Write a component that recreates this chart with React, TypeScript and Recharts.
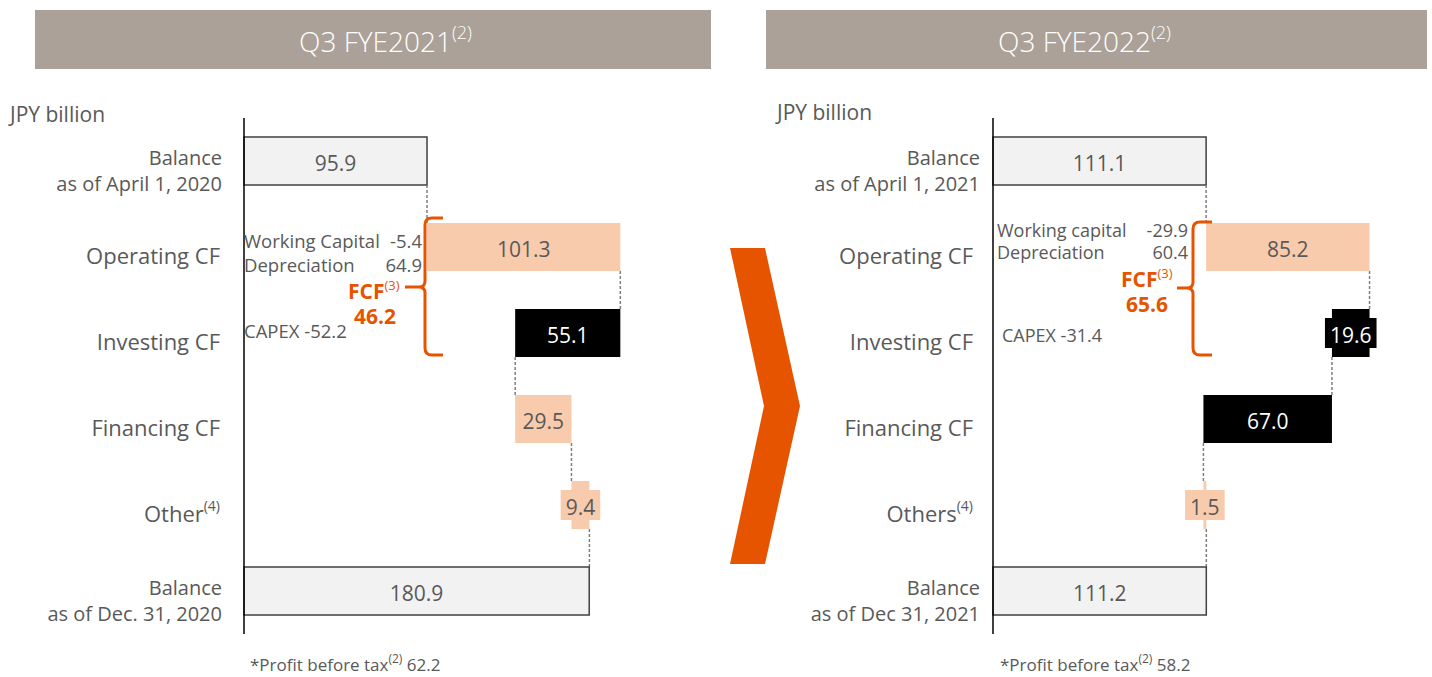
import { BarChart, Bar, XAxis, YAxis } from "recharts";

// category labels ("\n" = line break), superscripts and values per period
const cats2021 = ["Balance\nas of April 1, 2020", "Operating CF", "Investing CF", "Financing CF", "Other", "Balance\nas of Dec. 31, 2020"];
const sups2021 = ["", "", "", "", "(4)", ""];
const vals2021 = [95.9, 101.3, -55.1, 29.5, 9.4, 180.9];

const cats2022 = ["Balance\nas of April 1, 2021", "Operating CF", "Investing CF", "Financing CF", "Others", "Balance\nas of Dec 31, 2021"];
const sups2022 = ["", "", "", "", "(4)", ""];
const vals2022 = [111.1, 85.2, -19.6, -67.0, 1.5, 111.2];

const isTotal = [true, false, false, false, false, true];

const FONT = "'Open Sans', 'Noto Sans', sans-serif";
const GREY_TEXT = "#595959";
const UP_FILL = "#F8CBAD";
const DOWN_FILL = "#000000";
const BAL_FILL = "#F2F2F2";
const BAL_STROKE = "#404040";
const ORANGE = "#E65400";
const BAND = "#ABA198";

const ROW_H = 86;
const BAR_H = 48;

interface Row {
  name: string;
  sup: string;
  base: number;
  size: number;
  value: number;
  total: boolean;
  up: boolean;
  last: boolean;
}

function buildRows(cats: string[], sups: string[], vals: number[]): Row[] {
  let run = 0;
  return cats.map((c, i) => {
    const v = vals[i];
    let base = 0;
    if (isTotal[i]) {
      run = v;
    } else {
      const start = run;
      run = run + v;
      base = Math.min(start, run);
    }
    return {
      name: c,
      sup: sups[i],
      base,
      size: isTotal[i] ? v : Math.abs(v),
      value: v,
      total: isTotal[i],
      up: v >= 0,
      last: i === cats.length - 1,
    };
  });
}

const rows2021 = buildRows(cats2021, sups2021, vals2021);
const rows2022 = buildRows(cats2022, sups2022, vals2022);

function textWidth(s: string, fs: number) {
  let w = 0;
  for (const ch of s) w += ch === "." ? 0.27 : 0.57;
  return w * fs;
}

const WaterfallBar = (props: any) => {
  const { x, y, width, height, payload } = props;
  const p = payload as Row;
  const fill = p.total ? BAL_FILL : p.up ? UP_FILL : DOWN_FILL;
  const endX = p.total || p.up ? x + width : x;
  const label = Math.abs(p.value).toFixed(1);
  const tw = textWidth(label, 21) + 10;
  const cx = x + width / 2;
  const cy = y + height / 2;
  const gap = ROW_H - BAR_H;
  return (
    <g>
      <rect
        x={x}
        y={y}
        width={width}
        height={height}
        fill={fill}
        stroke={p.total ? BAL_STROKE : "none"}
        strokeWidth={1.5}
      />
      {!p.total && tw > width && (
        <rect x={cx - tw / 2} y={cy - 15} width={tw} height={30} fill={fill} />
      )}
      <text
        x={cx}
        y={cy + 2}
        textAnchor="middle"
        dominantBaseline="central"
        fontSize={21}
        fill={!p.total && !p.up ? "#ffffff" : GREY_TEXT}
      >
        {label}
      </text>
      {!p.last && (
        <line
          x1={endX}
          x2={endX}
          y1={y + height}
          y2={y + height + gap}
          stroke="#7f7f7f"
          strokeWidth={1.5}
          strokeDasharray="3 2"
        />
      )}
    </g>
  );
};

const CategoryTick = (props: any) => {
  const { x, y, payload, index, rows, balanceShift } = props;
  const row: Row = rows[index];
  const lines = String(payload.value).split("\n");
  if (lines.length > 1) {
    const lh = 26;
    const tx = x + (balanceShift || 0);
    const y0 = y + 9 - lh / 2;
    return (
      <g fontSize={20} fill={GREY_TEXT}>
        <text x={tx} y={y0} textAnchor="end" dominantBaseline="central">{lines[0]}</text>
        <text x={tx} y={y0 + lh} textAnchor="end" dominantBaseline="central">{lines[1]}</text>
      </g>
    );
  }
  return (
    <text x={x} y={y + 8} textAnchor="end" dominantBaseline="central" fontSize={22} fill={GREY_TEXT}>
      {lines[0]}
      {row && row.sup ? (
        <tspan fontSize={14} dy={-8}>
          {row.sup}
        </tspan>
      ) : null}
    </text>
  );
};

function Waterfall({ rows, width, axisWidth, maxX, labelGap, balanceShift }: { rows: Row[]; width: number; axisWidth: number; maxX: number; labelGap: number; balanceShift: number }) {
  return (
    <BarChart
      width={width}
      height={ROW_H * rows.length}
      data={rows}
      layout="vertical"
      margin={{ top: 0, right: 0, bottom: 0, left: 0 }}
      barCategoryGap={ROW_H - BAR_H}
    >
      <XAxis type="number" domain={[0, maxX]} hide />
      <YAxis
        type="category"
        dataKey="name"
        width={axisWidth}
        interval={0}
        tickLine={false}
        tickSize={0}
        tickMargin={labelGap}
        axisLine={{ stroke: "#000", strokeWidth: 1.5 }}
        tick={<CategoryTick rows={rows} balanceShift={balanceShift} />}
      />
      <Bar dataKey="base" stackId="w" fill="transparent" barSize={BAR_H} isAnimationActive={false} />
      <Bar dataKey="size" stackId="w" barSize={BAR_H} shape={WaterfallBar} isAnimationActive={false} />
    </BarChart>
  );
}

export default function App() {
  return (
    <div style={{ position: "relative", width: 1432, height: 677, overflow: "hidden", background: "#fff", fontFamily: FONT }}>
      <style>{"body{margin:0}"}</style>

      <div style={{ position: "absolute", left: 0, top: 118 }}>
        <Waterfall rows={rows2021} width={702} axisWidth={244} maxX={240} labelGap={24} balanceShift={2} />
      </div>
      <div style={{ position: "absolute", left: 740, top: 118 }}>
        <Waterfall rows={rows2022} width={675} axisWidth={253} maxX={220} labelGap={20} balanceShift={7} />
      </div>

      <svg width={1432} height={677} style={{ position: "absolute", left: 0, top: 0, pointerEvents: "none", fontFamily: FONT }}>
        {/* period headers */}
        <rect x={35} y={10} width={676} height={59} fill={BAND} />
        <text x={299} y={41} dominantBaseline="central" fontSize={28} fontWeight={300} fill="#fff">
          Q3 FYE2021<tspan fontSize={18} dy={-9}>(2)</tspan>
        </text>
        <rect x={766} y={10} width={661} height={59} fill={BAND} />
        <text x={998} y={41} dominantBaseline="central" fontSize={28} fontWeight={300} fill="#fff">
          Q3 FYE2022<tspan fontSize={18} dy={-9}>(2)</tspan>
        </text>

        <text x={10} y={114} dominantBaseline="central" fontSize={21} fill={GREY_TEXT}>JPY billion</text>
        <text x={777} y={112} dominantBaseline="central" fontSize={21} fill={GREY_TEXT}>JPY billion</text>

        {/* chevron */}
        <polygon points="730,248 765,248 800,406 765,564 730,564 764,406" fill={ORANGE} />

        {/* FY2021 annotations */}
        <g fontSize={18.5} fill={GREY_TEXT} dominantBaseline="central">
          <text x={244} y={240}>Working Capital</text>
          <text x={422} y={240} textAnchor="end">-5.4</text>
          <text x={244} y={264}>Depreciation</text>
          <text x={422} y={264} textAnchor="end">64.9</text>
          <text x={244} y={330}>CAPEX -52.2</text>
        </g>
        <g fill={ORANGE} fontWeight={700} dominantBaseline="central">
          <text x={348} y={291} fontSize={21}>
            FCF<tspan fontSize={13} fontWeight={400} dy={-6}>(3)</tspan>
          </text>
          <text x={375} y={316} fontSize={21} textAnchor="middle">46.2</text>
        </g>
        <path
          d="M443,218 H432 Q425,218 425,225 V281 Q425,287 419,287 H405 M419,287 Q425,287 425,293 V348 Q425,355 432,355 H443"
          fill="none"
          stroke={ORANGE}
          strokeWidth={3}
        />

        {/* FY2022 annotations */}
        <g fontSize={18} fill={GREY_TEXT} dominantBaseline="central">
          <text x={997} y={230}>Working capital</text>
          <text x={1188} y={230} textAnchor="end">-29.9</text>
          <text x={997} y={252}>Depreciation</text>
          <text x={1188} y={252} textAnchor="end">60.4</text>
          <text x={1002} y={335}>CAPEX  -31.4</text>
        </g>
        <g fill={ORANGE} fontWeight={700} dominantBaseline="central">
          <text x={1121} y={279} fontSize={21}>
            FCF<tspan fontSize={13} fontWeight={400} dy={-6}>(3)</tspan>
          </text>
          <text x={1147} y={304} fontSize={21} textAnchor="middle">65.6</text>
        </g>
        <path
          d="M1212,222 H1200 Q1193,222 1193,229 V282 Q1193,288 1187,288 H1177 M1187,288 Q1193,288 1193,294 V348 Q1193,355 1200,355 H1212"
          fill="none"
          stroke={ORANGE}
          strokeWidth={3}
        />

        {/* footnotes */}
        <text x={250} y={664} dominantBaseline="central" fontSize={17} fill={GREY_TEXT}>
          *Profit before tax<tspan fontSize={12} dy={-6}>(2)</tspan><tspan dy={6}> 62.2</tspan>
        </text>
        <text x={1000} y={664} dominantBaseline="central" fontSize={17} fill={GREY_TEXT}>
          *Profit before tax<tspan fontSize={12} dy={-6}>(2)</tspan><tspan dy={6}> 58.2</tspan>
        </text>
      </svg>
    </div>
  );
}
